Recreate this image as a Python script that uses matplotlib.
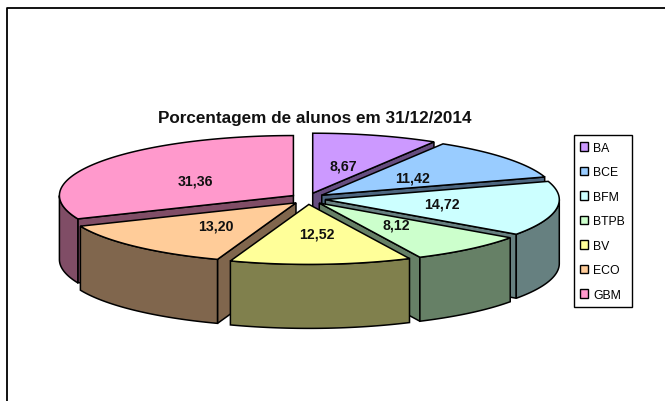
import numpy as np
import matplotlib
matplotlib.use('Agg')
import matplotlib.pyplot as plt
from matplotlib.patches import Polygon, Patch

categories = ['BA', 'BCE', 'BFM', 'BTPB', 'BV', 'ECO', 'GBM']
values = [8.67, 11.42, 14.72, 8.12, 12.52, 13.20, 31.36]
value_labels = ['8,67', '11,42', '14,72', '8,12', '12,52', '13,20', '31,36']
colors = ['#CC99FF', '#99CCFF', '#CCFFFF', '#CCFFCC', '#FFFF99', '#FFCC99', '#FF99CC']

# pie geometry, in pixels of the picture
cx, cy = 308, 199.7
rx, ry = 234, 60
ex, ey = 17.5, 5.7
depth = 64
label_pos = [(343, 167), (413, 179), (442, 205), (396, 226), (317, 235), (216, 227), (195, 182)]

plt.rcParams['font.family'] = ['Liberation Sans', 'DejaVu Sans']

fig = plt.figure(figsize=(6.65, 4.02), dpi=100)
ax = fig.add_axes([0, 0, 1, 1])
ax.set_xlim(0, 665)
ax.set_ylim(402, 0)
ax.axis('off')


def rim(ax0, ay0, t):
    return ax0 + rx * np.sin(t), ay0 - ry * np.cos(t)


def dark(c):
    return tuple(v * 0.5 for v in matplotlib.colors.to_rgb(c))


def wall(xs, ys, c, z):
    pts = list(zip(xs, ys)) + list(zip(xs[::-1], [y + depth for y in ys[::-1]]))
    ax.add_patch(Polygon(pts, closed=True, fc=dark(c), ec='black', lw=1.1, zorder=z, joinstyle='miter'))


total = sum(values)
edges = np.radians(np.concatenate([[0], np.cumsum(values)]) / total * 360)
mids = (edges[:-1] + edges[1:]) / 2
# draw from the back of the pie to the front
order = np.argsort(-np.cos(mids))

for z, i in enumerate(order):
    t0, t1, m, c = edges[i], edges[i + 1], mids[i], colors[i]
    ax0 = cx + ex * np.sin(m)
    ay0 = cy - ey * np.cos(m)
    base = z * 5
    if np.sin(t1) > 1e-6:
        x1, y1 = rim(ax0, ay0, t1)
        wall([ax0, x1], [ay0, y1], c, base + 1)
    if np.sin(t0) < -1e-6:
        x0, y0 = rim(ax0, ay0, t0)
        wall([ax0, x0], [ay0, y0], c, base + 1)
    a, b = max(t0, np.pi / 2), min(t1, 3 * np.pi / 2)
    if b > a:
        t = np.linspace(a, b, 60)
        xs, ys = rim(ax0, ay0, t)
        wall(list(xs), list(ys), c, base + 2)
    t = np.linspace(t0, t1, 120)
    xs, ys = rim(ax0, ay0, t)
    top = [(ax0, ay0)] + list(zip(xs, ys))
    ax.add_patch(Polygon(top, closed=True, fc=c, ec='black', lw=1.1, zorder=base + 3, joinstyle='miter'))

for (x, y), s in zip(label_pos, value_labels):
    ax.text(x, y, s, ha='center', va='center', fontsize=10.2, fontweight='bold', color='#111111', zorder=100)

ax.text(314.5, 118.5, 'Porcentagem de alunos em 31/12/2014', ha='center', va='center',
        fontsize=12.3, fontweight='bold', color='#111111', zorder=100)

# outer chart frame, top and left only are inside the picture
ax.plot([6.5, 6.5, 665], [402, 8.5, 8.5], color='black', lw=1.3, zorder=100)

handles = [Patch(fc=c, ec='black', lw=1.0) for c in colors]
ax.legend(handles, categories, loc='upper left', bbox_to_anchor=(573.5, 136), bbox_transform=ax.transData,
          borderaxespad=0, fontsize=8.8, frameon=True, fancybox=False, framealpha=1, edgecolor='black',
          handlelength=0.65, handleheight=0.7, handletextpad=0.4, labelspacing=1.02, borderpad=0.55)

fig.savefig('out.png', dpi=100)
